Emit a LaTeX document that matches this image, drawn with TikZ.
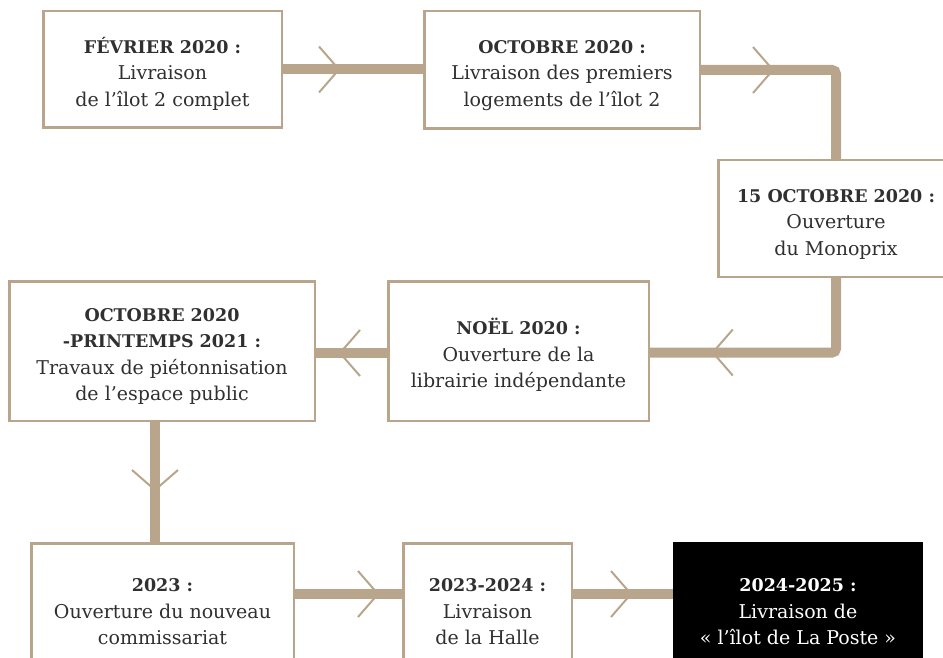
\documentclass[tikz,border=0pt]{standalone}
\usepackage{fontspec}
\setmainfont{DejaVu Serif}
\usetikzlibrary{decorations.markings}
\definecolor{tan}{HTML}{B8A58B}
\definecolor{ink}{HTML}{303030}
\newcommand{\headtxt}[1]{\rule{0pt}{24pt}{\fontsize{17.5}{26.5}\selectfont\bfseries #1}}
\tikzset{
  box/.style={draw=tan, line width=2.5pt, fill=white, align=center, inner sep=0pt,
    text=ink, font=\fontsize{19}{26.5}\selectfont},
  darkbox/.style={box, draw=black, fill=black, text=white},
  conn/.style={draw=tan, line width=10pt},
  chev/.style={draw=tan, line width=2pt},
  chevat/.style={postaction={decorate, decoration={markings,
    mark=at position #1 with {\draw[chev] (-20,-23) -- (0,0) -- (-20,23);}}}}
}
\begin{document}
\begin{tikzpicture}[x=1pt,y=-1pt]
\useasboundingbox (0,0) rectangle (943,658);
\clip (0,0) rectangle (943,658);
% boxes
\node[box, minimum width=238.5, minimum height=116.5] (b1) at (162.5,69.5)
  {\headtxt{FÉVRIER 2020 :}\\Livraison\\de l’îlot 2 complet};
\node[box, minimum width=275.5, minimum height=117.5] (b2) at (562,70)
  {\headtxt{OCTOBRE 2020 :}\\Livraison des premiers\\logements de l’îlot 2};
\node[box, minimum width=235.5, minimum height=116.5] (b3) at (836,218.5)
  {\headtxt{15 OCTOBRE 2020 :}\\Ouverture\\du Monoprix};
\node[box, minimum width=260.5, minimum height=139.5] (b4) at (518.5,351)
  {\headtxt{NOËL 2020 :}\\Ouverture de la\\librairie indépendante};
\node[box, minimum width=305.5, minimum height=139.5] (b5) at (162,351)
  {\headtxt{OCTOBRE 2020}\\{\fontsize{17.5}{26.5}\selectfont\bfseries -PRINTEMPS 2021 :}\\Travaux de piétonnisation\\de l’espace public};
\node[box, minimum width=262.5, minimum height=126.5] (b6) at (162.5,606.5)
  {\headtxt{2023 :}\\Ouverture du nouveau\\commissariat};
\node[box, minimum width=168.5, minimum height=126.5] (b7) at (487.5,606.5)
  {\headtxt{2023-2024 :}\\Livraison\\de la Halle};
\node[darkbox, minimum width=247.5, minimum height=126.5] (b8) at (798,606.5)
  {\headtxt{2024-2025 :}\\Livraison de\\« l’îlot de La Poste »};
% connectors
\draw[conn, chevat=56pt] (b1.east) -- (b1.east -| b2.west);
\draw[conn, rounded corners=4, chevat=72pt] (b2.east) -| (b3.north);
\draw[conn, rounded corners=4, chevat=196pt] (b3.south) |- ([yshift=-1.5]b4.east);
\draw[conn, chevat=47pt] ([yshift=-2]b4.west) -- ([yshift=-2]b4.west -| b5.east);
\draw[conn, chevat=68pt] ([xshift=-7]b5.south) -- ([xshift=-7]b5.south |- b6.north);
\draw[conn, chevat=83pt] ([yshift=12.5]b6.east) -- ([yshift=12.5]b7.west);
\draw[conn, chevat=58pt] ([yshift=12.5]b7.east) -- ([yshift=12.5]b8.west);
\end{tikzpicture}
\end{document}
